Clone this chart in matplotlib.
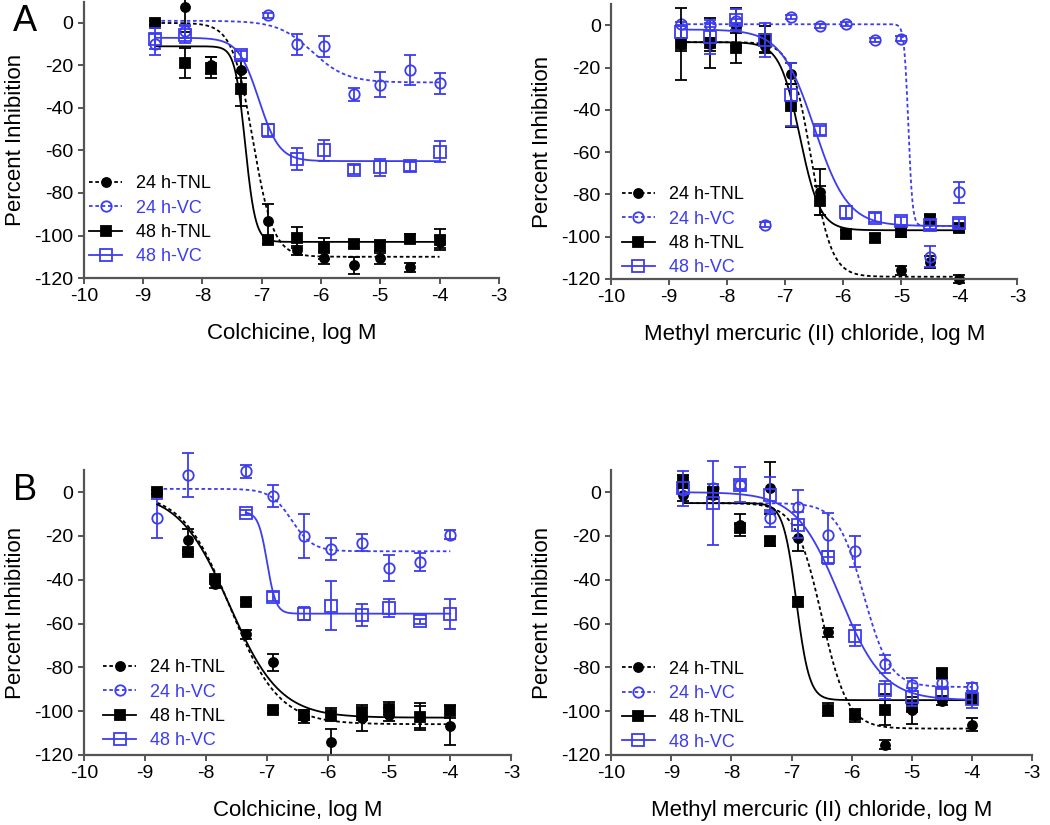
import numpy as np
import matplotlib
matplotlib.use("Agg")
import matplotlib.pyplot as plt
from matplotlib.lines import Line2D

plt.rcParams['font.family'] = ['Liberation Sans', 'DejaVu Sans']
plt.rcParams['axes.unicode_minus'] = False

nan = np.nan
BLUE = '#3c3cf0'
SPINE = '#555555'

# log M doses, shared by all panels
dose = [-8.8, -8.3, -7.85, -7.35, -6.9, -6.4, -5.95, -5.45, -5.0, -4.5, -4.0]
labels = ['24 h-TNL', '24 h-VC', '48 h-TNL', '48 h-VC']

# A, colchicine
colA_tnl24 = [0, 7.5, -20, -22, -93, -107, -110.5, -114, -110.5, -115, -103]
colA_tnl24_err = [1, 12, 4, 4, 8, 2, 3, 4, 3, 2, 3]
colA_vc24 = [-10, -4, nan, nan, 3.5, -10, -11, -33.5, -29, -22, -28.5]
colA_vc24_err = [5, 3, 0, 0, 1, 5, 5, 3, 6, 7, 5]
colA_tnl48 = [0, -19, -21, -31, -102, -101, -106, -104, -105, -101.5, -102]
colA_tnl48_err = [1, 7, 5, 8, 2, 5, 5, 2, 3, 2, 5]
colA_vc48 = [-7.5, -5.5, nan, -15, -50.5, -64, -60, -69, -68, -67.5, -60.5]
colA_vc48_err = [5, 4, 0, 2, 3, 5, 5, 2, 4, 2, 5]

# A, methyl mercury
hgA_tnl24 = [-9, -9, -1, -10, -23, -79, nan, nan, -116, -112, -120]
hgA_tnl24_err = [3, 3, 9, 3, 5, 11, 0, 0, 2, 3, 2]
hgA_vc24 = [0.6, 0, 2, -94.3, 4, -0.5, 0.6, -6.8, -6.3, -109.6, -79]
hgA_vc24_err = [1, 1, 1, 1, 1, 1, 1, 1, 1, 5, 5]
hgA_tnl48 = [-9, -8.4, -10.7, -6.5, -38, -83, -98.7, -100.6, -98, -91.6, -96]
hgA_tnl48_err = [17, 12, 7, 6, 10, 7, 2, 2, 2, 2, 2]
hgA_vc48 = [-3, -5.7, 2.7, -6.8, -32.8, -49.7, -88.5, -91, -92.7, -94.3, -93.8]
hgA_vc48_err = [3, 8, 5, 8, 15, 2, 3, 2, 2, 2, 2]

# B, colchicine
colB_tnl24 = [0, -21.8, -42, -65, -77.8, -102.5, -114, -103, -101.7, -102.5, -106.6]
colB_tnl24_err = [1, 5, 2, 2, 4, 3, 6, 6, 3, 6, 9]
colB_vc24 = [-12, 8, nan, 9.5, -1.7, -20, -26, -23, -34.7, -32, -19.5]
colB_vc24_err = [9, 10, 0, 3, 5, 10, 5, 4, 6, 4, 2]
colB_tnl48 = [0, -27.4, -39.7, -50.4, -99.7, -102, -101.7, -101, -99, -102.5, -100]
colB_tnl48_err = [1, 1, 1, 1, 1, 2, 3, 3, 3, 5, 3]
colB_vc48 = [nan, nan, nan, -9.3, -47.7, -55.6, -51.8, -56.3, -53, -59, -55.6]
colB_vc48_err = [0, 0, 0, 1, 2, 3, 11, 5, 4, 1, 7]

# B, methyl mercury
hgB_tnl24 = [-1.2, -1.2, -15, 1.8, -21, -64, -102, -115.4, -99.7, -95.2, -106.3]
hgB_tnl24_err = [3, 2, 5, 12, 6, 2, 3, 2, 6, 2, 3]
hgB_vc24 = [1, 1.8, 3.3, -12, -7, -19.5, -27, -78.4, -88, -87.3, -89]
hgB_vc24_err = [2, 2, 2, 4, 8, 10, 7, 4, 3, 2, 2]
hgB_tnl48 = [4.9, 0, -16.4, -22.5, -50, -99.4, -101.7, -99.4, -98, -82.7, -94.6]
hgB_tnl48_err = [3, 2, 2, 2, 2, 3, 2, 7, 2, 2, 2]
hgB_vc48 = [1.8, -5, 3.3, -1.2, -15, -29.7, -65.5, -90.3, -93.6, -91.8, -94.6]
hgB_vc48_err = [8, 19, 8, 8, 6, 3, 5, 4, 4, 2, 4]

# fitted curves: (start, bottom, top, logEC50, hill)
colA_fits = [(-8.8, -110, 0, -7.15, 2.5), (-8.8, -28, 1, -6.15, 1.5),
             (-8.8, -103, -11, -7.28, 5), (-8.8, -65, -7, -7.05, 2.5)]
hgA_fits = [(-8.8, -119, -8, -6.55, 2.5), (-8.8, -95, 0.5, -4.88, 12),
            (-8.8, -97, -8, -6.75, 2.5), (-8.8, -95, -2, -6.5, 1.5)]
colB_fits = [(-8.8, -106, 0, -7.6, 1.1), (-8.8, -27, 1.5, -6.6, 2.5),
             (-8.8, -103, 0, -7.62, 1.05), (-7.35, -55.5, -9, -7.0, 6)]
hgB_fits = [(-8.8, -108, -5, -6.5, 2), (-8.8, -89, -5, -5.8, 2),
            (-8.8, -95, -5, -6.92, 4), (-8.8, -95, 0, -6.2, 1.2)]

styles = [
    dict(color='black', marker='o', ms=6.5, mfc='black', ls=(0, (2, 1.5))),
    dict(color=BLUE, marker='o', ms=7.5, mfc='none', ls=(0, (2, 1.5))),
    dict(color='black', marker='s', ms=6.5, mfc='black', ls='-'),
    dict(color=BLUE, marker='s', ms=8, mfc='none', ls='-'),
]


def hill(x, bottom, top, ec, h):
    return bottom + (top - bottom) / (1 + 10 ** ((x - ec) * h))


def panel(rect, series, fits, xlabel, leg_xy):
    ax = fig.add_axes(rect)
    for (y, e), fit, st in zip(series, fits, styles):
        x0, b, t, ec, h = fit
        xs = np.linspace(x0, -4, 400)
        ax.plot(xs, hill(xs, b, t, ec, h), color=st['color'], ls=st['ls'], lw=1.3)
        ax.errorbar(dose, y, yerr=e, fmt='none', ecolor=st['color'],
                    elinewidth=1.3, capsize=4.5, capthick=1.3, clip_on=False)
        ax.plot(dose, y, ls='none', marker=st['marker'], ms=st['ms'],
                mfc=st['mfc'], mec=st['color'], mew=1.3, color=st['color'],
                clip_on=False)
    ax.set_xlim(-10, -3)
    ax.set_ylim(-120, 10)
    ax.set_xticks(range(-10, -2))
    ax.set_yticks(range(-120, 1, 20))
    for s in ['top', 'right']:
        ax.spines[s].set_visible(False)
    for s in ['left', 'bottom']:
        ax.spines[s].set_color(SPINE)
        ax.spines[s].set_linewidth(1.6)
    ax.tick_params(direction='out', length=4.5, width=1.4, color=SPINE,
                   labelsize=14, pad=3)
    ax.set_xlabel(xlabel, fontsize=16, labelpad=13)
    ax.set_ylabel('Percent Inhibition', fontsize=16, labelpad=6)
    handles = [Line2D([], [], color=st['color'], ls=st['ls'], lw=1.3,
                      marker=st['marker'], ms=st['ms'], mfc=st['mfc'],
                      mec=st['color'], mew=1.3) for st in styles]
    leg = ax.legend(handles, labels, loc='upper left', bbox_to_anchor=leg_xy,
                    frameon=False, fontsize=13, borderpad=0, labelspacing=0.41,
                    handlelength=1.8, handletextpad=0.8)
    for txt, st in zip(leg.get_texts(), styles):
        txt.set_color(st['color'])
    return ax


fig = plt.figure(figsize=(10.5, 8.25), dpi=100)

panel([0.080, 0.663, 0.395, 0.335],
      [(colA_tnl24, colA_tnl24_err), (colA_vc24, colA_vc24_err),
       (colA_tnl48, colA_tnl48_err), (colA_vc48, colA_vc48_err)],
      colA_fits, 'Colchicine, log M', (-0.009, 0.405))
panel([0.582, 0.662, 0.387, 0.333],
      [(hgA_tnl24, hgA_tnl24_err), (hgA_vc24, hgA_vc24_err),
       (hgA_tnl48, hgA_tnl48_err), (hgA_vc48, hgA_vc48_err)],
      hgA_fits, 'Methyl mercuric (II) chloride, log M', (0.005, 0.37))
panel([0.080, 0.085, 0.407, 0.345],
      [(colB_tnl24, colB_tnl24_err), (colB_vc24, colB_vc24_err),
       (colB_tnl48, colB_tnl48_err), (colB_vc48, colB_vc48_err)],
      colB_fits, 'Colchicine, log M', (0.024, 0.368))
panel([0.582, 0.085, 0.401, 0.345],
      [(hgB_tnl24, hgB_tnl24_err), (hgB_vc24, hgB_vc24_err),
       (hgB_tnl48, hgB_tnl48_err), (hgB_vc48, hgB_vc48_err)],
      hgB_fits, 'Methyl mercuric (II) chloride, log M', (0.005, 0.363))

fig.text(0.024, 0.974, 'A', fontsize=26, ha='center', va='center')
fig.text(0.024, 0.406, 'B', fontsize=26, ha='center', va='center')

fig.savefig('out.png', dpi=100)
